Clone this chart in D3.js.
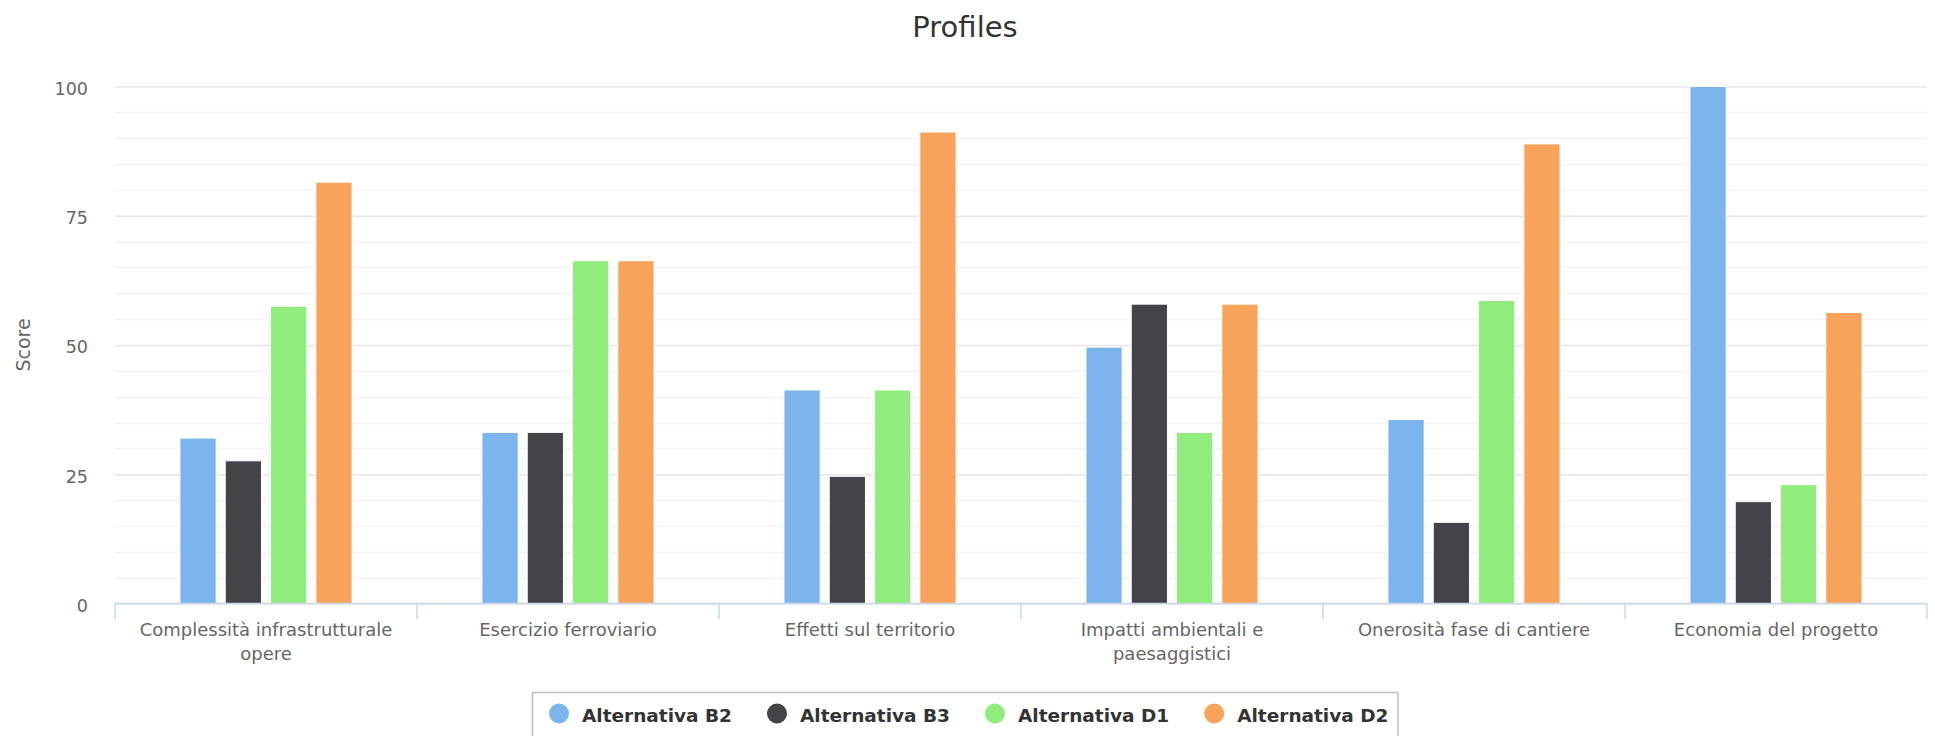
<!DOCTYPE html>
<html>
<head>
<meta charset="utf-8">
<script src="https://cdn.jsdelivr.net/npm/d3@7"></script>
<style>
  html, body { margin: 0; padding: 0; background: #ffffff; }
  svg { display: block; font-family: "DejaVu Sans", sans-serif; }
</style>
</head>
<body>
<svg id="chart" width="1935" height="736"></svg>
<script>
// Criteria scored for each alternative
const categories = [
  "Complessità infrastrutturale opere",
  "Esercizio ferroviario",
  "Effetti sul territorio",
  "Impatti ambientali e paesaggistici",
  "Onerosità fase di cantiere",
  "Economia del progetto"
];
const seriesNames = ["Alternativa B2", "Alternativa B3", "Alternativa D1", "Alternativa D2"];
const seriesColors = ["#7cb5ec", "#434348", "#90ed7d", "#f7a35c"];
const altB2 = [32.0, 33.1, 41.3, 49.6, 35.6, 100];
const altB3 = [27.6, 33.1, 24.6, 57.9, 15.7, 19.7];
const altD1 = [57.5, 66.3, 41.3, 33.1, 58.6, 23.0];
const altD2 = [81.5, 66.3, 91.2, 57.9, 88.9, 56.3];
const yTicks = [0, 25, 50, 75, 100];
const titleText = "Profiles";
const yAxisTitle = "Score";

const seriesValues = [altB2, altB3, altD1, altD2];

const svg = d3.select("#chart");
const W = 1935;
const plot = { left: 115, right: 1927, top: 86.5, bottom: 603.5 };

const x0 = d3.scaleBand().domain(categories).range([plot.left, plot.right]).padding(0);
const bw = x0.bandwidth();
const x1 = d3.scaleBand().domain(seriesNames)
  .range([0.2 * bw, 0.8 * bw]).paddingInner(0.2).paddingOuter(0.1);
const y = d3.scaleLinear().domain([0, 100]).range([plot.bottom, plot.top]);

// Minor gridlines every 5
const minor = d3.range(5, 100, 5).filter(v => v % 25 !== 0);
svg.append("g").selectAll("line").data(minor).join("line")
  .attr("x1", plot.left).attr("x2", plot.right)
  .attr("y1", d => Math.round(y(d)) + 0.5).attr("y2", d => Math.round(y(d)) + 0.5)
  .attr("stroke", "#f2f2f2").attr("stroke-width", 1.5);

// Major gridlines and value axis labels
const yAxis = d3.axisLeft(y).tickValues(yTicks).tickSize(-(plot.right - plot.left)).tickPadding(27);
const gy = svg.append("g").attr("transform", `translate(${plot.left},0)`).call(yAxis);
gy.select(".domain").remove();
gy.selectAll(".tick line").attr("stroke", "#e6e6e6").attr("stroke-width", 1.5);
gy.selectAll(".tick text")
  .attr("fill", "#666666").attr("font-size", "17.5px")
  .attr("font-family", "DejaVu Sans, sans-serif")
  .attr("dy", "0.45em");

// Bars
const groups = svg.append("g").selectAll("g").data(categories).join("g")
  .attr("transform", d => `translate(${x0(d)},0)`);
groups.selectAll("rect")
  .data((c, i) => seriesNames.map((s, k) => ({ s, k, v: seriesValues[k][i] })))
  .join("rect")
  .attr("x", d => x1(d.s))
  .attr("width", x1.bandwidth())
  .attr("y", d => y(d.v))
  .attr("height", d => y(0) - y(d.v))
  .attr("fill", d => seriesColors[d.k])
  .attr("stroke", "#ffffff").attr("stroke-width", 1);

// Category axis
const xAxis = d3.axisBottom(x0).tickSize(0).tickPadding(0);
const gx = svg.append("g").attr("transform", `translate(0,${plot.bottom})`).call(xAxis);
gx.select(".domain").attr("stroke", "#ccd6eb").attr("stroke-width", 1.5)
  .attr("d", `M${plot.left},0H${plot.right}`);
gx.selectAll(".tick text").remove();

// Ticks on the category boundaries
const bounds = categories.map(c => x0(c)).concat([plot.right]);
svg.append("g").selectAll("line").data(bounds).join("line")
  .attr("x1", d => d).attr("x2", d => d)
  .attr("y1", plot.bottom).attr("y2", plot.bottom + 16)
  .attr("stroke", "#ccd6eb").attr("stroke-width", 1.5);

// Wrapped category labels
const maxW = bw - 14;
gx.selectAll(".tick").each(function (d) {
  const t = d3.select(this).append("text")
    .attr("fill", "#666666").attr("font-size", "18px")
    .attr("font-family", "DejaVu Sans, sans-serif")
    .attr("text-anchor", "middle").attr("y", 32.5);
  const words = d.split(" ");
  let line = [];
  let lineNo = 0;
  let tspan = t.append("tspan").attr("x", 0).attr("dy", 0);
  words.forEach(w => {
    line.push(w);
    tspan.text(line.join(" "));
    if (tspan.node().getComputedTextLength() > maxW && line.length > 1) {
      line.pop();
      tspan.text(line.join(" "));
      line = [w];
      lineNo++;
      tspan = t.append("tspan").attr("x", 0).attr("dy", 24).text(w);
    }
  });
});

// Title
svg.append("text").attr("x", 965).attr("y", 36.5)
  .attr("text-anchor", "middle").attr("fill", "#333333")
  .attr("font-size", "29px").text(titleText);

// Value axis title
svg.append("text")
  .attr("transform", `translate(30,${(plot.top + plot.bottom) / 2}) rotate(-90)`)
  .attr("text-anchor", "middle").attr("fill", "#666666")
  .attr("font-size", "19px").text(yAxisTitle);

// Legend
const legend = svg.append("g");
const r = 10, textOff = 23, gap = 35;
const items = legend.selectAll("g").data(seriesNames).join("g");
items.append("circle").attr("r", r).attr("cy", 713.5).attr("fill", (d, i) => seriesColors[i]);
items.append("text").attr("y", 721.5).attr("fill", "#333333")
  .attr("font-size", "18.5px").attr("font-weight", "bold").text(d => d);
let cx = 0;
const pos = [];
items.each(function () {
  const w = d3.select(this).select("text").node().getComputedTextLength();
  pos.push(cx);
  cx += r + textOff + w + gap - 0;
  pos[pos.length - 1] = { start: pos[pos.length - 1], w };
});
const lastEnd = pos[pos.length - 1].start + r + textOff + pos[pos.length - 1].w;
const padL = 17, padR = 9;
const total = padL + lastEnd + padR;
const boxX = 532;
const originX = boxX + padL;
items.each(function (d, i) {
  const g = d3.select(this);
  g.select("circle").attr("cx", originX + pos[i].start + r);
  g.select("text").attr("x", originX + pos[i].start + r + textOff);
});
legend.insert("rect", ":first-child")
  .attr("x", boxX + 0.5).attr("y", 692.5)
  .attr("width", total).attr("height", 60)
  .attr("fill", "none").attr("stroke", "#bfbfbf").attr("stroke-width", 1.5);
</script>
</body>
</html>
